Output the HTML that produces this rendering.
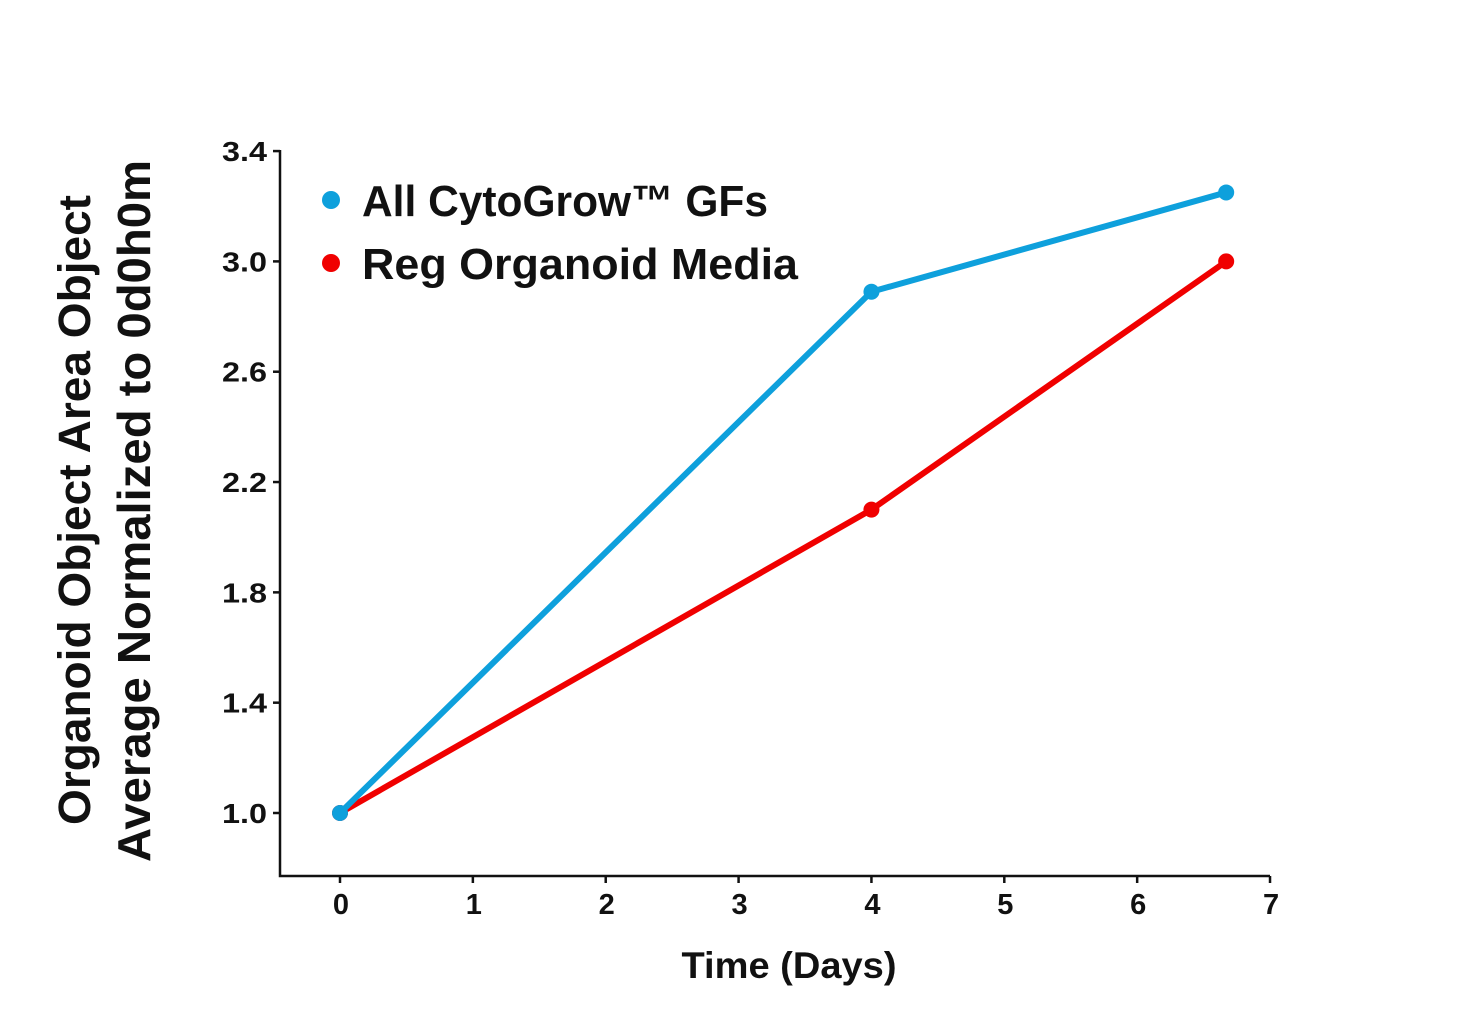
<!DOCTYPE html>
<html><head><meta charset="utf-8"><style>
html,body{margin:0;padding:0;background:#fff;}
svg{display:block;font-family:"Liberation Sans",sans-serif;font-weight:bold;}
</style></head><body>
<svg id="chart" width="1475" height="1035" viewBox="0 0 1475 1035">
<g id="axes"></g>
<g id="series"></g>
<g>
<circle cx="331" cy="200" r="9" fill="#0ea0dc"/>
<text x="362" y="216" font-size="44" fill="#111" textLength="406" lengthAdjust="spacingAndGlyphs">All CytoGrow™ GFs</text>
<circle cx="331" cy="263" r="9" fill="#f00000"/>
<text x="362" y="279" font-size="44" fill="#111" textLength="436" lengthAdjust="spacingAndGlyphs">Reg Organoid Media</text>
</g>
<text x="789" y="978" font-size="37" text-anchor="middle" fill="#111" textLength="215" lengthAdjust="spacingAndGlyphs">Time (Days)</text>
<text transform="translate(90,510) rotate(-90)" font-size="45" text-anchor="middle" fill="#111" textLength="630" lengthAdjust="spacingAndGlyphs">Organoid Object Area Object</text>
<text transform="translate(150,511) rotate(-90)" font-size="46" text-anchor="middle" fill="#111" textLength="702" lengthAdjust="spacingAndGlyphs">Average Normalized to 0d0h0m</text>
</svg>
<script>
const xTicks=[0,1,2,3,4,5,6,7];
const yTicks=[1.0,1.4,1.8,2.2,2.6,3.0,3.4];
const days=[0,4,6.67];
const cytoGrow=[1.0,2.89,3.25];
const regMedia=[1.0,2.1,3.0];
const NS="http://www.w3.org/2000/svg";
const x=v=>340+(v)*132.86;
const y=v=>813-(v-1.0)*275.8;
function mk(tag,attrs,parent){const e=document.createElementNS(NS,tag);for(const k in attrs)e.setAttribute(k,attrs[k]);parent.appendChild(e);return e;}
const axes=document.getElementById('axes');
let a=mk('path',{d:'M280 150 V876 H1270',fill:'none',stroke:'#111','stroke-width':2.5},axes);


yTicks.forEach(t=>{
 const l=mk('line',{x1:273,x2:280,y1:y(t),y2:y(t),stroke:'#111','stroke-width':2.5},axes);
 
 
 const tx=mk('text',{x:267,y:y(t)+10,'font-size':28,'text-anchor':'end',fill:'#111',textLength:45,lengthAdjust:'spacingAndGlyphs'},axes);
 tx.textContent=t.toFixed(1);
 
 
});
xTicks.forEach(t=>{
 const l=mk('line',{x1:x(t),x2:x(t),y1:876,y2:883,stroke:'#111','stroke-width':2.5},axes);
 
 
 const tx=mk('text',{x:x(t)+1,y:914,'font-size':29,'text-anchor':'middle',fill:'#111'},axes);
 tx.textContent=t;
 
 
});
const ser=document.getElementById('series');
[[regMedia,'#f00000','reg-organoid'],[cytoGrow,'#0ea0dc','cytogrow']].forEach(([vals,col,name])=>{
 const p=mk('polyline',{points:vals.map((v,i)=>x(days[i])+','+y(v)).join(' '),fill:'none',stroke:col,'stroke-width':6,'stroke-linejoin':'round'},ser);
 
 
 vals.forEach((v,i)=>{
  const c=mk('circle',{cx:x(days[i]),cy:y(v),r:8,fill:col},ser);
  
  
 });
});
</script>
</body></html>
